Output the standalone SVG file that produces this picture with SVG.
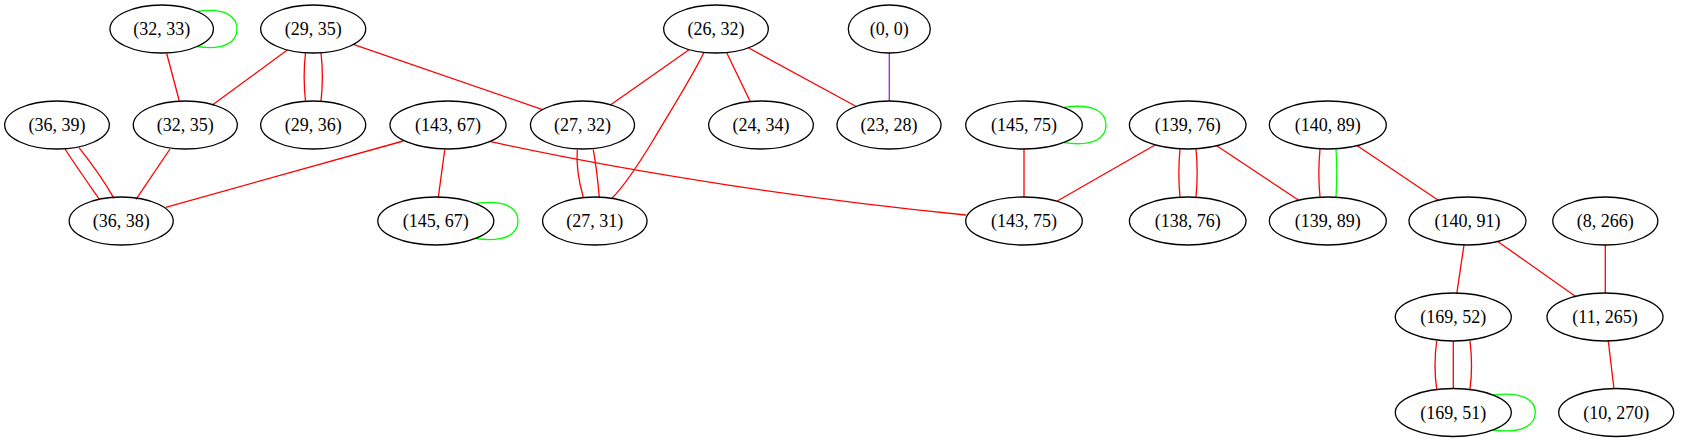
<svg xmlns="http://www.w3.org/2000/svg" width="1681" height="443" viewBox="0 0 1681 443">
<style>
.n ellipse{fill:none;stroke:#000;stroke-width:1.3}
.n text{font-family:"Liberation Serif","Times New Roman",serif;font-size:18px;text-anchor:middle;fill:#000}
#edges path{fill:none;stroke-width:1.3}
.r{stroke:#ff0000}
.g{stroke:#00ff00}
.p{stroke:#a020f0}
</style>
<rect width="1681" height="443" fill="#fff"/>
<g id="edges">
<path class="r" d="M166.7,53.5 L179.3,101"/>
<path class="r" d="M287.3,50 L212,105.3"/>
<path class="r" d="M305.5,52.8 C303.8,68 303.8,86 305.5,101"/>
<path class="r" d="M321,52.8 C322.7,68 322.7,86 321,101"/>
<path class="r" d="M353.3,44.3 L541.7,109.3"/>
<path class="r" d="M65,149 C76,166 88,183 99.3,199.3"/>
<path class="r" d="M79,147.7 C92,164 104,181 114,198.3"/>
<path class="r" d="M170,149 L136,199.3"/>
<path class="r" d="M403.3,141 L165.7,207.3"/>
<path class="r" d="M444.7,150 L438.3,197.3"/>
<path class="r" d="M490.7,141.7 C640.7,174.6 816,200 966,215"/>
<path class="r" d="M577.3,149.7 C576,165 579,182 583.3,197.3"/>
<path class="r" d="M593.3,149.7 C596,165 598,182 599.3,197.3"/>
<path class="r" d="M688.7,50 L610,105.3"/>
<path class="r" d="M703.7,52.7 C695,72 665,120 653.3,140 C640,162 625,185 612,198.3"/>
<path class="r" d="M726.7,52.7 L750,101"/>
<path class="r" d="M748.3,47.7 L856.7,106.7"/>
<path class="p" d="M889.3,52.8 L889.3,101"/>
<path class="g" d="M197,11.5 C226,7 237,17 237,29 C237,41 226,51 197,46.5"/>
<path class="g" d="M1064,107.3 C1095,103 1106,113 1106,125 C1106,137 1095,147 1064,142.7"/>
<path class="r" d="M1024,149 L1024,197"/>
<path class="r" d="M1155,145 L1057.3,201"/>
<path class="r" d="M1180,149 C1178.5,165 1178.5,182 1180,197"/>
<path class="r" d="M1196,149 C1197.5,165 1197.5,182 1196,197"/>
<path class="r" d="M1216.7,145.7 L1298.3,200"/>
<path class="r" d="M1320,149 C1318.5,165 1318.5,182 1320,197"/>
<path class="g" d="M1336,149 C1337,165 1337,182 1336,197"/>
<path class="r" d="M1357.3,145.7 L1439,200.7"/>
<path class="g" d="M475.5,203.5 C507,199 518,209 518,221 C518,233 507,243 475.5,238.5"/>
<path class="r" d="M1464,245 L1456.7,294"/>
<path class="r" d="M1498,241.7 L1576,296.7"/>
<path class="r" d="M1605.3,245 L1605.3,293"/>
<path class="r" d="M1436.7,341 C1434.5,357 1434.5,374 1436.7,389.5"/>
<path class="r" d="M1453.3,341 L1453.3,388.5"/>
<path class="r" d="M1470,341 C1472,357 1472,374 1470,389.5"/>
<path class="g" d="M1493,395 C1524,391 1535.3,401 1535.3,412.5 C1535.3,424 1524,434 1493,430"/>
<path class="r" d="M1608.3,341 L1614,389"/>
</g>
<g id="n1" class="n"><ellipse cx="161.7" cy="29" rx="51.7" ry="24"/><text x="161.7" y="35">(32, 33)</text></g>
<g id="n2" class="n"><ellipse cx="313.2" cy="29" rx="52.5" ry="24"/><text x="313.2" y="35">(29, 35)</text></g>
<g id="n3" class="n"><ellipse cx="716" cy="29" rx="52.3" ry="24"/><text x="716" y="35">(26, 32)</text></g>
<g id="n4" class="n"><ellipse cx="889.3" cy="29" rx="41" ry="24"/><text x="889.3" y="35">(0, 0)</text></g>
<g id="n5" class="n"><ellipse cx="57" cy="125" rx="52.3" ry="24"/><text x="57" y="131">(36, 39)</text></g>
<g id="n6" class="n"><ellipse cx="185.3" cy="125" rx="52" ry="24"/><text x="185.3" y="131">(32, 35)</text></g>
<g id="n7" class="n"><ellipse cx="313.2" cy="125" rx="52.5" ry="24"/><text x="313.2" y="131">(29, 36)</text></g>
<g id="n8" class="n"><ellipse cx="448" cy="125" rx="58" ry="24"/><text x="448" y="131">(143, 67)</text></g>
<g id="n9" class="n"><ellipse cx="582.5" cy="125" rx="52" ry="24"/><text x="582.5" y="131">(27, 32)</text></g>
<g id="n10" class="n"><ellipse cx="761" cy="125" rx="52.3" ry="24"/><text x="761" y="131">(24, 34)</text></g>
<g id="n11" class="n"><ellipse cx="889" cy="125" rx="52" ry="24"/><text x="889" y="131">(23, 28)</text></g>
<g id="n12" class="n"><ellipse cx="1024" cy="125" rx="58.3" ry="24"/><text x="1024" y="131">(145, 75)</text></g>
<g id="n13" class="n"><ellipse cx="1187.7" cy="125" rx="58.3" ry="24"/><text x="1187.7" y="131">(139, 76)</text></g>
<g id="n14" class="n"><ellipse cx="1327.8" cy="125" rx="58.5" ry="24"/><text x="1327.8" y="131">(140, 89)</text></g>
<g id="n15" class="n"><ellipse cx="121.2" cy="221" rx="52" ry="24"/><text x="121.2" y="227">(36, 38)</text></g>
<g id="n16" class="n"><ellipse cx="435.8" cy="221" rx="58" ry="24"/><text x="435.8" y="227">(145, 67)</text></g>
<g id="n17" class="n"><ellipse cx="594.8" cy="221" rx="52.2" ry="24"/><text x="594.8" y="227">(27, 31)</text></g>
<g id="n18" class="n"><ellipse cx="1024" cy="221" rx="58.3" ry="24"/><text x="1024" y="227">(143, 75)</text></g>
<g id="n19" class="n"><ellipse cx="1187.7" cy="221" rx="58.3" ry="24"/><text x="1187.7" y="227">(138, 76)</text></g>
<g id="n20" class="n"><ellipse cx="1327.8" cy="221" rx="58.5" ry="24"/><text x="1327.8" y="227">(139, 89)</text></g>
<g id="n21" class="n"><ellipse cx="1467.5" cy="221" rx="58.5" ry="24"/><text x="1467.5" y="227">(140, 91)</text></g>
<g id="n22" class="n"><ellipse cx="1605.3" cy="221" rx="52.5" ry="24"/><text x="1605.3" y="227">(8, 266)</text></g>
<g id="n23" class="n"><ellipse cx="1453.3" cy="317" rx="58" ry="24"/><text x="1453.3" y="323">(169, 52)</text></g>
<g id="n24" class="n"><ellipse cx="1605" cy="317" rx="58" ry="24"/><text x="1605" y="323">(11, 265)</text></g>
<g id="n25" class="n"><ellipse cx="1453.3" cy="412.5" rx="58" ry="24"/><text x="1453.3" y="418.5">(169, 51)</text></g>
<g id="n26" class="n"><ellipse cx="1616.2" cy="412.5" rx="57.5" ry="24"/><text x="1616.2" y="418.5">(10, 270)</text></g>
</svg>
